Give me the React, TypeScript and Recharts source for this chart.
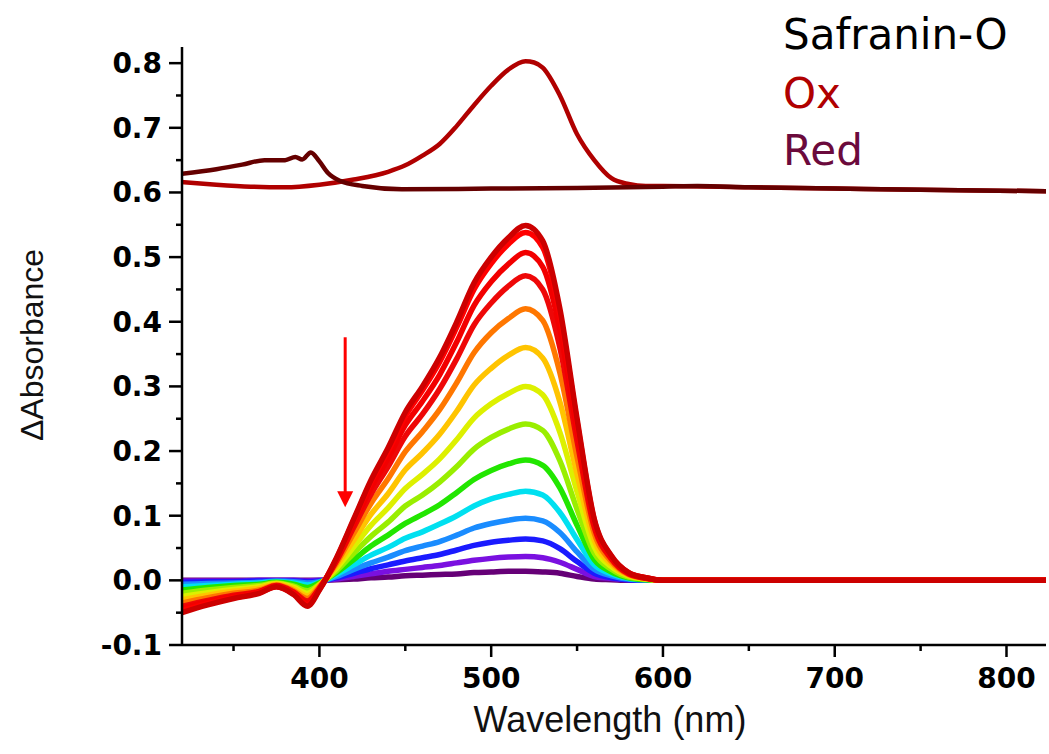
import { LineChart, Line, XAxis, YAxis, ReferenceLine, ReferenceDot } from 'recharts'

// wavelength grid (nm) shared by the titration spectra
const WAVELENGTHS = [320, 335, 350, 365, 375, 385, 393, 400, 410, 420, 430, 440, 450, 460, 470, 480, 490, 500, 510, 520, 530, 540, 550, 560, 570, 580, 590, 600, 700, 823]

// difference spectra, from the first scan (purple) to the last (dark red)
const scan01 = [0.000, 0.000, 0.000, 0.000, 0.000, 0.000, 0.000, 0.000, 0.001, 0.002, 0.004, 0.005, 0.007, 0.008, 0.009, 0.010, 0.012, 0.013, 0.014, 0.014, 0.013, 0.011, 0.006, 0.002, 0.001, 0.000, 0.000, 0.000, 0.000, 0.000]
const scan02 = [-0.001, -0.001, -0.001, 0.000, 0.000, 0.000, -0.001, 0.000, 0.002, 0.006, 0.010, 0.014, 0.017, 0.020, 0.023, 0.027, 0.031, 0.034, 0.036, 0.037, 0.035, 0.028, 0.017, 0.006, 0.003, 0.001, 0.000, 0.000, 0.000, 0.000]
const scan03 = [-0.003, -0.002, -0.002, -0.001, -0.001, -0.001, -0.002, -0.001, 0.004, 0.011, 0.018, 0.024, 0.030, 0.035, 0.040, 0.047, 0.054, 0.059, 0.062, 0.064, 0.061, 0.049, 0.029, 0.011, 0.004, 0.001, 0.000, 0.000, 0.000, 0.000]
const scan04 = [-0.006, -0.005, -0.004, -0.003, -0.001, -0.002, -0.004, -0.002, 0.006, 0.017, 0.027, 0.036, 0.046, 0.053, 0.060, 0.070, 0.081, 0.088, 0.093, 0.096, 0.092, 0.074, 0.044, 0.017, 0.007, 0.002, 0.001, 0.000, 0.000, 0.000]
const scan05 = [-0.010, -0.008, -0.006, -0.004, -0.002, -0.004, -0.007, -0.003, 0.009, 0.024, 0.039, 0.051, 0.065, 0.075, 0.087, 0.100, 0.115, 0.126, 0.133, 0.138, 0.132, 0.105, 0.063, 0.024, 0.010, 0.003, 0.001, 0.000, 0.000, 0.000]
const scan06 = [-0.015, -0.011, -0.008, -0.006, -0.003, -0.006, -0.011, -0.004, 0.012, 0.032, 0.053, 0.070, 0.088, 0.102, 0.117, 0.136, 0.156, 0.170, 0.180, 0.186, 0.178, 0.143, 0.085, 0.032, 0.013, 0.004, 0.001, 0.000, 0.000, 0.000]
const scan07 = [-0.020, -0.015, -0.011, -0.008, -0.004, -0.009, -0.016, -0.006, 0.015, 0.042, 0.068, 0.090, 0.115, 0.132, 0.152, 0.176, 0.203, 0.221, 0.234, 0.242, 0.232, 0.185, 0.110, 0.042, 0.017, 0.005, 0.002, 0.000, 0.000, 0.000]
const scan08 = [-0.025, -0.019, -0.014, -0.010, -0.005, -0.011, -0.020, -0.007, 0.019, 0.052, 0.085, 0.112, 0.142, 0.164, 0.188, 0.218, 0.251, 0.273, 0.289, 0.300, 0.287, 0.229, 0.137, 0.052, 0.021, 0.007, 0.002, 0.000, 0.000, 0.000]
const scan09 = [-0.030, -0.023, -0.017, -0.012, -0.006, -0.013, -0.024, -0.008, 0.023, 0.062, 0.102, 0.134, 0.171, 0.197, 0.226, 0.262, 0.302, 0.328, 0.348, 0.360, 0.344, 0.276, 0.164, 0.062, 0.025, 0.008, 0.003, 0.000, 0.000, 0.000]
const scan10 = [-0.035, -0.027, -0.020, -0.015, -0.007, -0.016, -0.028, -0.010, 0.027, 0.073, 0.119, 0.157, 0.199, 0.230, 0.264, 0.306, 0.352, 0.383, 0.405, 0.420, 0.402, 0.321, 0.191, 0.073, 0.029, 0.009, 0.003, 0.000, 0.000, 0.000]
const scan11 = [-0.040, -0.031, -0.023, -0.017, -0.008, -0.018, -0.032, -0.012, 0.030, 0.082, 0.133, 0.176, 0.223, 0.257, 0.296, 0.343, 0.395, 0.429, 0.455, 0.471, 0.450, 0.360, 0.215, 0.082, 0.033, 0.010, 0.003, 0.000, 0.000, 0.000]
const scan12 = [-0.043, -0.033, -0.025, -0.018, -0.009, -0.019, -0.035, -0.013, 0.032, 0.088, 0.143, 0.189, 0.240, 0.277, 0.318, 0.369, 0.425, 0.462, 0.489, 0.507, 0.485, 0.388, 0.231, 0.088, 0.035, 0.011, 0.004, 0.000, 0.000, 0.000]
const scan13 = [-0.047, -0.036, -0.027, -0.019, -0.010, -0.021, -0.038, -0.014, 0.034, 0.093, 0.152, 0.200, 0.254, 0.294, 0.338, 0.392, 0.450, 0.490, 0.520, 0.538, 0.515, 0.412, 0.245, 0.093, 0.037, 0.012, 0.004, 0.000, 0.000, 0.000]
const scan14 = [-0.050, -0.038, -0.028, -0.020, -0.010, -0.022, -0.040, -0.015, 0.035, 0.095, 0.155, 0.205, 0.260, 0.300, 0.345, 0.400, 0.460, 0.500, 0.530, 0.549, 0.525, 0.420, 0.250, 0.095, 0.038, 0.012, 0.004, 0.000, 0.000, 0.000]

const SCANS = [scan01, scan02, scan03, scan04, scan05, scan06, scan07, scan08, scan09, scan10, scan11, scan12, scan13, scan14]
const SCAN_COLORS = ['#660077', '#7a10e0', '#1a1aff', '#1a8cff', '#00e0f0', '#22e600', '#99ee00', '#ddf000', '#ffc400', '#ff7700', '#ee0808', '#f20000', '#ff0000', '#cc0000']

// offset reference spectra of the oxidised and reduced dye
const oxWavelengths = [320, 340, 360, 380, 400, 420, 440, 450, 460, 470, 480, 490, 500, 510, 520, 525, 530, 540, 550, 560, 570, 580, 590, 600, 650, 700, 750, 823]
const oxValues = [0.616, 0.612, 0.609, 0.608, 0.612, 0.620, 0.632, 0.642, 0.657, 0.675, 0.703, 0.735, 0.765, 0.790, 0.803, 0.801, 0.793, 0.750, 0.690, 0.650, 0.622, 0.613, 0.610, 0.610, 0.608, 0.606, 0.604, 0.602]
const redWavelengths = [320, 340, 355, 368, 380, 386, 390, 395, 400, 405, 412, 425, 448, 500, 550, 600, 620, 650, 700, 750, 823]
const redValues = [0.629, 0.636, 0.643, 0.650, 0.650, 0.655, 0.651, 0.662, 0.648, 0.630, 0.618, 0.610, 0.605, 0.606, 0.607, 0.609, 0.610, 0.608, 0.606, 0.604, 0.602]

const X_TICKS = [350, 400, 450, 500, 550, 600, 650, 700, 750, 800]
const Y_TICKS = [-0.1, -0.05, 0, 0.05, 0.1, 0.15, 0.2, 0.25, 0.3, 0.35, 0.4, 0.45, 0.5, 0.55, 0.6, 0.65, 0.7, 0.75, 0.8]

const ARROW_X = 415
const ARROW_TOP = 0.376
const ARROW_TIP = 0.113

const toPoints = (xs: number[], ys: number[]) => xs.map((x, i) => ({ x, v: ys[i] }))

const tickFont = { fontFamily: 'DejaVu Sans', fontWeight: 700, fontSize: 28, fill: '#000' }

function XTick({ x, y, payload }: any) {
  const major = payload.value % 100 === 0
  return (
    <g>
      <line x1={x} x2={x} y1={y} y2={y + (major ? 12 : 6)} stroke="#000" strokeWidth={2.5} />
      {major && (
        <text x={x} y={y + 43} textAnchor="middle" {...tickFont}>
          {payload.value}
        </text>
      )}
    </g>
  )
}

function YTick({ x, y, payload }: any) {
  const major = Math.round(payload.value * 100) % 10 === 0
  return (
    <g>
      <line x1={x} x2={x - (major ? 13 : 6)} y1={y} y2={y} stroke="#000" strokeWidth={2.5} />
      {major && (
        <text x={x - 20} y={y + 10} textAnchor="end" {...tickFont}>
          {payload.value.toFixed(1)}
        </text>
      )}
    </g>
  )
}

function ArrowHead({ cx, cy }: any) {
  return <polygon points={`${cx},${cy} ${cx - 8},${cy - 16} ${cx + 8},${cy - 16}`} fill="#ff0000" />
}

export default function App() {
  return (
    <div style={{ position: 'absolute', left: 0, top: 0, width: 1049, height: 754, background: '#fff' }}>
      <LineChart width={1049} height={754} margin={{ top: 47, right: 3, bottom: 49, left: 0 }}>
        <XAxis
          dataKey="x"
          type="number"
          domain={[320, 823]}
          ticks={X_TICKS}
          allowDataOverflow
          height={60}
          tickSize={0}
          tickMargin={0}
          tickLine={false}
          tick={<XTick />}
          axisLine={{ stroke: '#000', strokeWidth: 2.5 }}
        />
        <YAxis
          type="number"
          domain={[-0.1, 0.825]}
          ticks={Y_TICKS}
          allowDataOverflow
          width={182}
          tickSize={0}
          tickMargin={0}
          tickLine={false}
          tick={<YTick />}
          axisLine={{ stroke: '#000', strokeWidth: 2.5 }}
        />
        {SCANS.map((scan, i) => (
          <Line
            key={`scan-${i}`}
            data={toPoints(WAVELENGTHS, scan)}
            dataKey="v"
            type="monotone"
            stroke={SCAN_COLORS[i]}
            strokeWidth={5.5}
            dot={false}
            isAnimationActive={false}
          />
        ))}
        <Line
          data={toPoints(oxWavelengths, oxValues)}
          dataKey="v"
          type="monotone"
          stroke="#b00000"
          strokeWidth={4.5}
          dot={false}
          isAnimationActive={false}
        />
        <Line
          data={toPoints(redWavelengths, redValues)}
          dataKey="v"
          type="monotone"
          stroke="#650000"
          strokeWidth={4.5}
          dot={false}
          isAnimationActive={false}
        />
        <ReferenceLine
          segment={[{ x: ARROW_X, y: ARROW_TOP }, { x: ARROW_X, y: ARROW_TIP + 0.02 }]}
          stroke="#ff0000"
          strokeWidth={3}
        />
        <ReferenceDot x={ARROW_X} y={ARROW_TIP} shape={<ArrowHead />} />
      </LineChart>
      <svg width={1049} height={754} style={{ position: 'absolute', left: 0, top: 0, pointerEvents: 'none' }}>
        <text x={783} y={49} fontFamily="DejaVu Sans" fontSize={42} fill="#000">Safranin-O</text>
        <text x={783} y={108} fontFamily="DejaVu Sans" fontSize={42} fill="#b00000">Ox</text>
        <text x={783} y={165} fontFamily="DejaVu Sans" fontSize={42} fill="#6b0a3c">Red</text>
        <text x={610} y={732} textAnchor="middle" fontFamily="Liberation Sans" fontSize={36} fill="#111">
          Wavelength (nm)
        </text>
        <text
          x={43}
          y={345}
          transform="rotate(-90 43 345)"
          textAnchor="middle"
          fontFamily="Liberation Sans"
          fontSize={32}
          fill="#111"
        >
          ΔAbsorbance
        </text>
      </svg>
    </div>
  )
}
